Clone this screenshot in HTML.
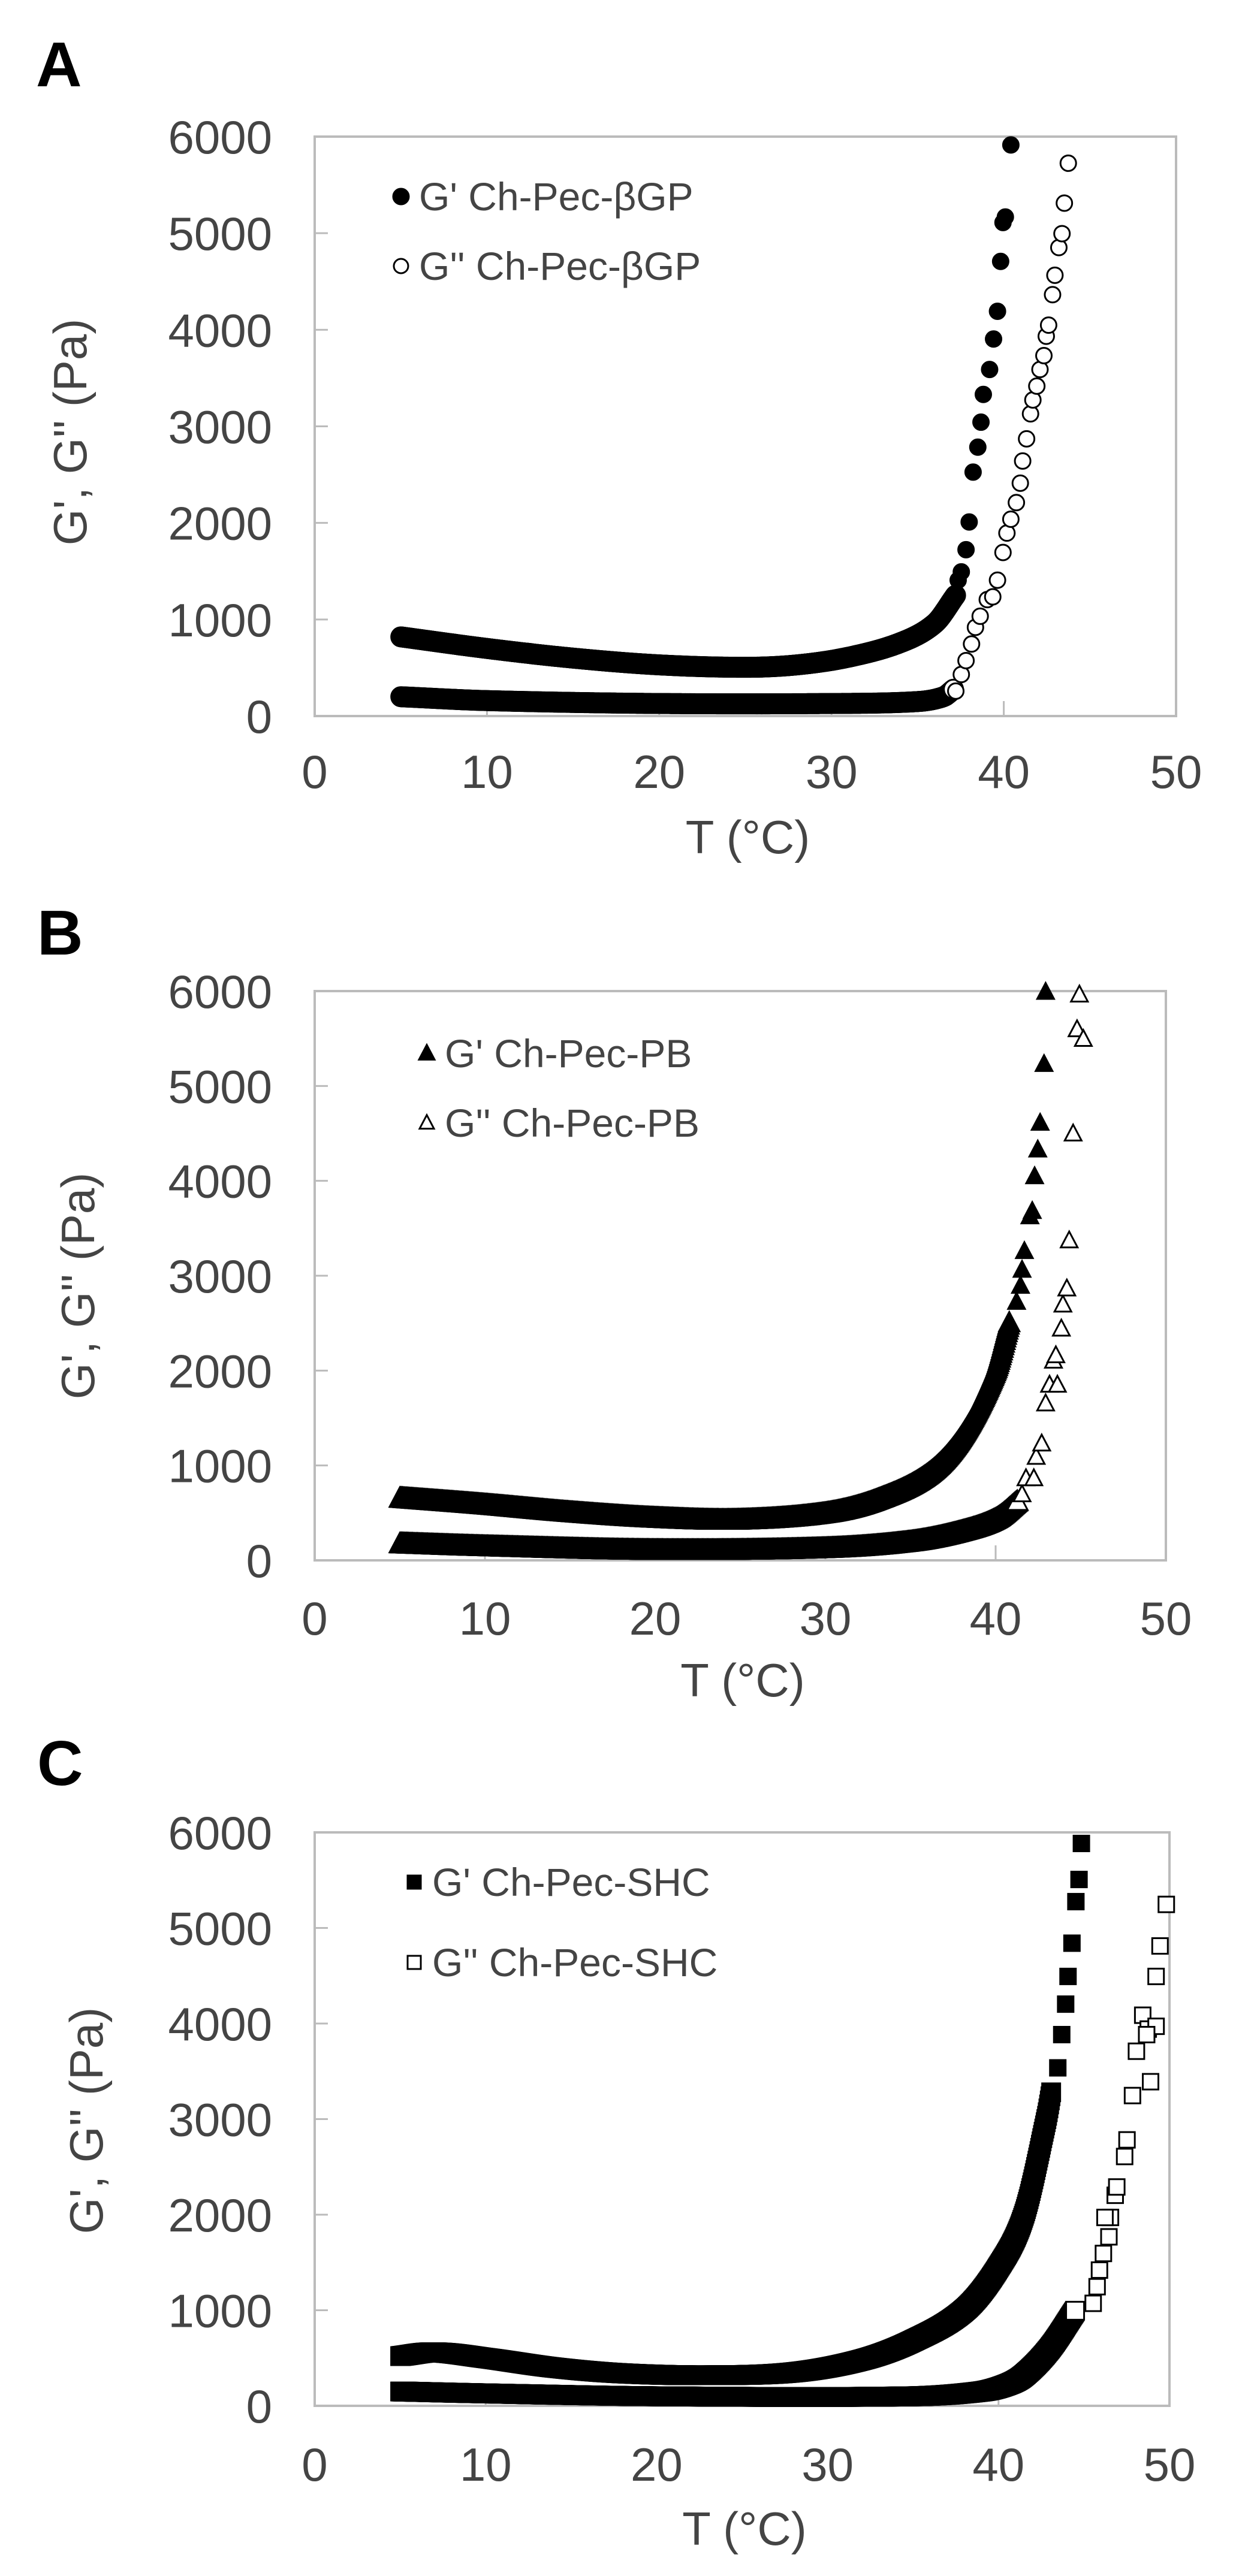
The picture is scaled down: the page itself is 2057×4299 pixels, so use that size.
<!DOCTYPE html>
<html><head><meta charset="utf-8">
<style>
html,body{margin:0;padding:0;background:#fff;}
svg{display:block;}
text{font-family:"Liberation Sans",Arial,sans-serif;}
</style></head>
<body>
<svg id="s" xmlns="http://www.w3.org/2000/svg" width="2057" height="4299" viewBox="0 0 2057 4299">
<rect width="2057" height="4299" fill="#fff"/>
</svg>
<script>
var NS="http://www.w3.org/2000/svg";
var svg=document.getElementById('s');
function el(n,a,p){var e=document.createElementNS(NS,n);for(var k in a)e.setAttribute(k,a[k]);(p||svg).appendChild(e);return e;}
function txt(s,a){var e=el('text',a);e.textContent=s;return e;}
function interp(pts,t){
  if(t<=pts[0][0])return pts[0][1];
  var n=pts.length;
  for(var i=1;i<n;i++){if(t<=pts[i][0]){
    var p0=pts[Math.max(0,i-2)],p1=pts[i-1],p2=pts[i],p3=pts[Math.min(n-1,i+1)];
    var h=p2[0]-p1[0],u=(t-p1[0])/h;
    var m1=(p2[1]-p0[1])/(p2[0]-p0[0]||1)*h, m2=(p3[1]-p1[1])/(p3[0]-p1[0]||1)*h;
    var u2=u*u,u3=u2*u;
    return (2*u3-3*u2+1)*p1[1]+(u3-2*u2+u)*m1+(-2*u3+3*u2)*p2[1]+(u3-u2)*m2;}}
  return pts[n-1][1];}
function marker(g,type,filled,x,y,r){
  var f=filled?'#000':'#fff',st={fill:f,stroke:'#000','stroke-width':3};
  if(type=='c'){st.cx=x;st.cy=y;st.r=r;el('circle',st,g);}
  else if(type=='s'){st.x=x-r;st.y=y-r;st.width=2*r;st.height=2*r;el('rect',st,g);}
  else {st.points=(x)+','+(y-r*1.1)+' '+(x+r)+','+(y+r*0.8)+' '+(x-r)+','+(y+r*0.8);el('polygon',st,g);}
}
function panel(o){
  var L=o.L,R=o.R,T=o.T,B=o.B;
  var X=function(t){return L+(R-L)*t/50;},Y=function(v){return B-(B-T)*v/6000;};
  txt(o.lab,{x:o.labx,y:o.laby,'font-size':106,'font-weight':900,fill:'#000'});
  for(var i=0;i<=6;i++){var y=Y(i*1000);
    txt(String(i*1000),{x:454,y:y+28,'font-size':78,fill:'#444','text-anchor':'end'});
    if(i>0&&i<6)el('line',{x1:L,x2:L+22,y1:y,y2:y,stroke:'#bbb','stroke-width':3});}
  for(var j=0;j<=5;j++){var x=X(j*10);
    txt(String(j*10),{x:x,y:o.xly+28,'font-size':78,fill:'#444','text-anchor':'middle'});
    if(j>0&&j<5)el('line',{x1:x,x2:x,y1:B,y2:B-25,stroke:'#bbb','stroke-width':3});}
  el('rect',{x:L,y:T,width:R-L,height:B-T,fill:'none',stroke:'#bbb','stroke-width':4});
  txt('T (°C)',{x:(L+R)/2+4,y:o.xty+28,'font-size':78,fill:'#444','text-anchor':'middle'});
  txt("G', G'' (Pa)",{x:0,y:0,'font-size':78,fill:'#444','text-anchor':'middle',transform:'translate('+(o.ytx+28)+','+o.yty+') rotate(-90)'});
  marker(svg,o.m,true,o.lgx,o.lg1,o.m=='s'?11:13);
  txt(o.n1,{x:o.lgx+30,y:o.lg1+23,'font-size':66,fill:'#444'});
  marker(svg,o.m,false,o.lgx,o.lg2,o.m=='s'?11:12);
  txt(o.n2,{x:o.lgx+30,y:o.lg2+23,'font-size':66,fill:'#444'});
  var g=el('g',{});
  var r=o.r;
  for(var t=5;t<=o.d2end;t+=0.04) marker(g,o.m,false,X(t),Y(interp(o.g2,t)),r);
  o.s2.forEach(function(p){marker(g,o.m,false,X(p[0]),Y(p[1]),o.rs);});
  for(var t=5;t<=o.d1end;t+=0.04) marker(g,o.m,true,X(t),Y(interp(o.g1,t)),r);
  o.s1.forEach(function(p){marker(g,o.m,true,X(p[0]),Y(p[1]),o.rs);});
}
function cz(list,x0,x1,yb,yt){return list.map(function(p){return [(p[0]-x0)/(x1-x0)*50,(yb-p[1])/(yb-yt)*6000];});}
panel({lab:'A',labx:60,laby:144,L:525,R:1962,T:228,B:1195,xly:1287,xty:1396,ytx:116,yty:721,
 lgx:669,lg1:328,lg2:444,n1:"G' Ch-Pec-βGP",n2:"G'' Ch-Pec-βGP",m:'c',r:16,rs:13,
 g1:[[5,820],[10,700],[15,600],[20,530],[25,505],[28,530],[31,610],[34,760],[36,960],[37.2,1250]],d1end:37.2,
 g2:[[5,200],[10,160],[20,130],[30,130],[35,150],[36.5,200],[37.1,280]],d2end:37.1,
 s1:cz([[1218,1045],[1222,1030],[1228,990],[1232,940],[1237,850],[1243,805],[1247,760],[1250,710],[1258,665],[1263,610],[1268,560],[1272,470],[1275,400],[1278,390],[1285,260]],400,1495,1290,245),
 s2:cz([[1215,1245],[1222,1215],[1228,1190],[1235,1160],[1240,1130],[1246,1110],[1255,1080],[1262,1075],[1268,1045],[1275,995],[1280,960],[1285,935],[1292,905],[1297,870],[1300,830],[1305,790],[1310,745],[1313,720],[1318,695],[1322,665],[1327,640],[1330,605],[1333,585],[1338,530],[1341,495],[1346,445],[1350,420],[1353,365],[1358,293]],400,1495,1290,245)});
panel({lab:'B',labx:62,laby:1593,L:525,R:1945,T:1654,B:2604,xly:2700,xty:2803,ytx:129,yty:2146,
 lgx:712,lg1:1758,lg2:1874,n1:"G' Ch-Pec-PB",n2:"G'' Ch-Pec-PB",m:'t',r:17,rs:14,
 g1:[[5,650],[10,580],[15,500],[20,440],[25,420],[30,490],[33,630],[36,900],[38,1300],[40,2000],[40.8,2500]],d1end:40.8,
 g2:[[5,170],[10,140],[20,100],[30,120],[35,190],[38,300],[40,430],[41.3,620]],d2end:41.3,
 s1:cz([[1293,810],[1298,780],[1300,750],[1303,715],[1310,650],[1313,640],[1316,575],[1320,525],[1323,475],[1328,365],[1330,230]],400,1483,1293,228),
 s2:cz([[1300,1170],[1305,1140],[1315,1140],[1318,1100],[1325,1075],[1330,1000],[1335,965],[1340,920],[1345,965],[1343,910],[1350,860],[1352,815],[1357,785],[1360,695],[1365,495],[1370,300],[1378,318],[1373,235]],400,1483,1293,228)});
panel({lab:'C',labx:62,laby:2979,L:525,R:1951,T:3058,B:4015,xly:4112,xty:4219,ytx:143,yty:3539,
 lgx:691,lg1:3141,lg2:3275,n1:"G' Ch-Pec-SHC",n2:"G'' Ch-Pec-SHC",m:'s',r:15,rs:13,
 g1:[[5,520],[7,560],[10,500],[14,400],[18,340],[23,320],[28,350],[32,480],[35,680],[38,1000],[40,1450],[41.5,2000],[42.8,3000],[43.1,3300]],d1end:43.1,
 g2:[[5,150],[10,130],[20,100],[35,100],[39,150],[40.5,220],[41.5,320],[43,600],[44.5,1000]],d2end:44.5,
 s1:cz([[1345,650],[1350,590],[1355,535],[1358,485],[1363,425],[1368,350],[1372,310],[1375,245]],400,1487,1260,225),
 s2:cz([[1390,1075],[1395,1045],[1398,1015],[1403,985],[1410,955],[1412,920],[1418,880],[1405,920],[1420,865],[1430,810],[1433,780],[1440,700],[1445,620],[1453,555],[1460,580],[1463,675],[1470,485],[1475,430],[1483,355],[1470,575],[1458,590]],400,1487,1260,225)});
</script>
</body></html>
